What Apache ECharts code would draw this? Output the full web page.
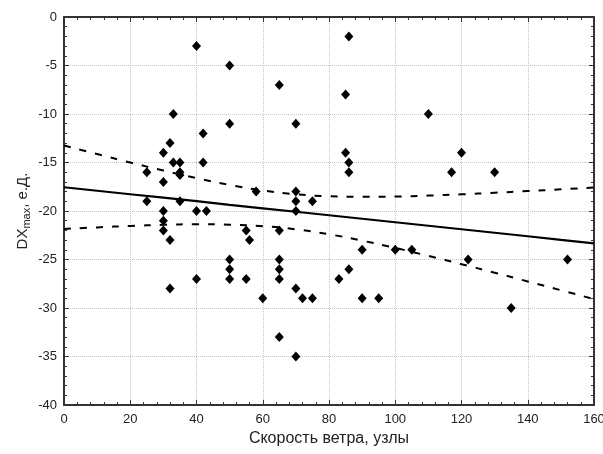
<!DOCTYPE html>
<html><head><meta charset="utf-8">
<script src="https://cdn.jsdelivr.net/npm/echarts@6/dist/echarts.min.js"></script>
<style>html,body{margin:0;padding:0;background:#fff}#c{width:603px;height:454px}</style>
</head><body><div id="c"></div>
<script>
// Observed points: wind speed (knots) and DXmax
var windSpeed = [25,25,30,30,30,30,30,32,32,32,33,33,35,35,35,35,40,40,40,42,42,43,50,50,50,50,50,55,55,56,58,60,65,65,65,65,65,65,70,70,70,70,70,70,72,75,75,83,85,85,86,86,86,86,90,90,95,100,105,110,117,120,122,130,135,152];
var dxMax     = [-16,-19,-14,-17,-20,-21,-22,-13,-23,-28,-10,-15,-15,-16,-16.3,-19,-3,-20,-27,-12,-15,-20,-5,-11,-25,-26,-27,-22,-27,-23,-18,-29,-7,-22,-25,-26,-27,-33,-11,-18,-19,-20,-28,-35,-29,-19,-29,-27,-8,-14,-2,-15,-16,-26,-24,-29,-29,-24,-24,-10,-16,-14,-25,-16,-30,-25];
// Regression line and confidence band read at x = 0..160
var bandX     = [0,10,20,30,40,50,60,70,80,90,100,110,120,130,140,150,160];
var fitLine   = [-17.55,-17.91,-18.27,-18.63,-18.99,-19.36,-19.72,-20.08,-20.44,-20.8,-21.16,-21.52,-21.88,-22.24,-22.6,-22.97,-23.33];
var upperBand = [-13.25,-14.13,-15.0,-15.83,-16.61,-17.31,-17.88,-18.27,-18.48,-18.54,-18.51,-18.41,-18.28,-18.12,-17.94,-17.77,-17.58];
var lowerBand = [-21.85,-21.69,-21.54,-21.43,-21.37,-21.41,-21.56,-21.89,-22.4,-23.06,-23.81,-24.63,-25.48,-26.36,-27.26,-28.17,-29.08];
var xTitle = 'Скорость ветра, узлы';

function zip(a,b){return a.map(function(v,i){return [v,b[i]];});}
var F = '"Liberation Sans", Arial, sans-serif';
var chart = echarts.init(document.getElementById('c'));
var axisCommon = {
  axisLine:{show:true,onZero:false,lineStyle:{color:'#333',width:2}},
  axisTick:{show:true,inside:true,length:5,lineStyle:{color:'#333',width:1}},
  minorTick:{show:true,splitNumber:5,length:3,lineStyle:{color:'#333',width:1}}
};
chart.setOption({
  animation:false,
  backgroundColor:'#fff',
  grid:{left:64,right:9,top:17,bottom:49,show:false,containLabel:false,outerBoundsMode:'none'},
  xAxis:[
    Object.assign({type:'value',min:0,max:160,interval:20,position:'bottom',
      name:xTitle,nameLocation:'middle',nameGap:26,
      nameTextStyle:{fontFamily:F,fontSize:16,color:'#222'},
      axisLabel:{fontFamily:F,fontSize:13,color:'#222',margin:8},
      splitLine:{show:true,lineStyle:{color:'#c4c4c4',type:[1,1],width:1}}},axisCommon),
    Object.assign({type:'value',min:0,max:160,interval:20,position:'top',
      axisLabel:{show:false},splitLine:{show:false}},axisCommon)
  ],
  yAxis:[
    Object.assign({type:'value',min:-40,max:0,interval:5,position:'left',
      name:'{a|DX}{s|max}{a|, е.Д.}',nameLocation:'middle',nameGap:32,nameRotate:90,
      nameMoveOverlap:false,
      nameTextStyle:{fontFamily:F,fontSize:15,color:'#222',rich:{
        a:{fontFamily:F,fontSize:15,color:'#222'},
        s:{fontFamily:F,fontSize:11,color:'#222',padding:[8,0,0,0]}}},
      axisLabel:{fontFamily:F,fontSize:13,color:'#222',margin:7},
      splitLine:{show:true,lineStyle:{color:'#c4c4c4',type:[1,1],width:1}}},axisCommon),
    Object.assign({type:'value',min:-40,max:0,interval:5,position:'right',
      axisLabel:{show:false},splitLine:{show:false}},axisCommon)
  ],
  series:[
    {type:'line',data:zip(bandX,upperBand),smooth:true,symbol:'none',
      lineStyle:{color:'#000',width:2,type:[7,9]},z:3},
    {type:'line',data:zip(bandX,lowerBand),smooth:true,symbol:'none',
      lineStyle:{color:'#000',width:2,type:[7,9]},z:3},
    {type:'line',data:zip(bandX,fitLine),symbol:'none',
      lineStyle:{color:'#000',width:2.2},z:3},
    {type:'scatter',data:zip(windSpeed,dxMax),symbol:'diamond',symbolSize:[9,10],
      itemStyle:{color:'#000',opacity:1},z:4}
  ]
});
</script></body></html>
